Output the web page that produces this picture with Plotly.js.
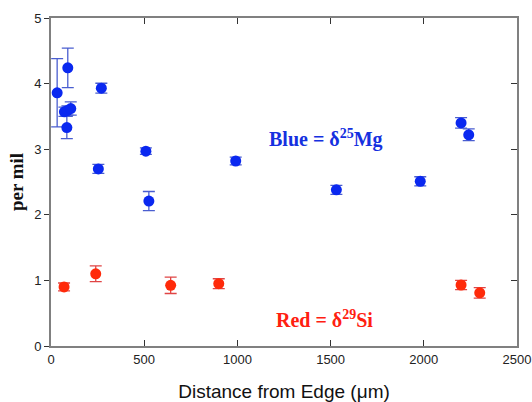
<!DOCTYPE html>
<html>
<head>
<meta charset="utf-8">
<script src="https://cdn.plot.ly/plotly-3.0.1.min.js"></script>
<style>html,body{margin:0;padding:0;background:#fff;}#chart{width:532px;height:402px;}</style>
</head>
<body>
<div id="chart"></div>
<script>
// Blue: delta 25 Mg
const mgDistance = [33, 90, 85, 72, 88, 106, 270, 254, 509, 525, 991, 1531, 1981, 2200, 2241];
const mgValue    = [3.86, 4.24, 3.33, 3.57, 3.59, 3.62, 3.93, 2.70, 2.97, 2.21, 2.82, 2.38, 2.51, 3.40, 3.22];
const mgError    = [0.52, 0.30, 0.17, 0.07, 0.07, 0.10, 0.075, 0.07, 0.05, 0.145, 0.06, 0.07, 0.07, 0.08, 0.09];
// Red: delta 29 Si
const siDistance = [70, 240, 642, 900, 2200, 2300];
const siValue    = [0.90, 1.10, 0.925, 0.95, 0.93, 0.81];
const siError    = [0.06, 0.12, 0.125, 0.075, 0.07, 0.08];

const xTicks = [0, 500, 1000, 1500, 2000, 2500];
const yTicks = [0, 1, 2, 3, 4, 5];

const traces = [
  {
    x: mgDistance, y: mgValue, type: 'scatter', mode: 'markers',
    marker: {color: '#0a28f0', size: 11},
    error_y: {type: 'data', array: mgError, visible: true, color: '#4a5ed0', thickness: 1.3, width: 6},
    showlegend: false, cliponaxis: false
  },
  {
    x: siDistance, y: siValue, type: 'scatter', mode: 'markers',
    marker: {color: '#ff2a0a', size: 11},
    error_y: {type: 'data', array: siError, visible: true, color: '#e04545', thickness: 1.3, width: 6},
    showlegend: false, cliponaxis: false
  },
  {x: [0], y: [0], yaxis: 'y2', type: 'scatter', mode: 'markers', marker: {opacity: 0}, hoverinfo: 'skip', showlegend: false}
];

const layout = {
  width: 532, height: 402,
  margin: {l: 51, r: 15, t: 18, b: 56},
  paper_bgcolor: '#ffffff', plot_bgcolor: '#ffffff',
  showlegend: false,
  xaxis: {
    range: [0, 2500], tickvals: xTicks, ticktext: xTicks.map(String),
    ticks: 'inside', ticklen: 6, tickcolor: '#333', tickwidth: 1,
    mirror: 'ticks', showline: true, linecolor: '#808080', linewidth: 2,
    showgrid: false, zeroline: false,
    tickfont: {family: 'Arial, Liberation Sans, sans-serif', size: 13, color: '#222'},
    title: {text: 'Distance from Edge (μm)', font: {family: 'Arial, Liberation Sans, sans-serif', size: 19, color: '#111'}, standoff: 20}
  },
  yaxis: {
    range: [0, 5], tickvals: yTicks, ticktext: yTicks.map(String),
    ticks: 'outside', ticklen: 5, tickcolor: '#333', tickwidth: 1,
    mirror: true, showline: true, linecolor: '#808080', linewidth: 2,
    showgrid: false, zeroline: false,
    tickfont: {family: 'Arial, Liberation Sans, sans-serif', size: 13, color: '#222'},
    title: {text: '<b>per mil</b>', font: {family: 'Times New Roman, Liberation Serif, serif', size: 19, color: '#111'}, standoff: 6}
  },
  yaxis2: {
    range: [0, 5], tickvals: yTicks, overlaying: 'y', side: 'right',
    ticks: 'inside', ticklen: 6, tickcolor: '#333', showticklabels: false,
    showgrid: false, zeroline: false, showline: false
  },
  annotations: [
    {x: 1473, y: 3.17, xref: 'x', yref: 'y', showarrow: false,
     text: '<b>Blue = δ<sup>25</sup>Mg</b>',
     font: {family: 'Times New Roman, Liberation Serif, serif', size: 20, color: '#1530e0'}},
    {x: 1468, y: 0.41, xref: 'x', yref: 'y', showarrow: false,
     text: '<b>Red = δ<sup>29</sup>Si</b>',
     font: {family: 'Times New Roman, Liberation Serif, serif', size: 20, color: '#ff2010'}}
  ]
};

Plotly.newPlot('chart', traces, layout, {displayModeBar: false, staticPlot: true});
</script>
</body>
</html>
